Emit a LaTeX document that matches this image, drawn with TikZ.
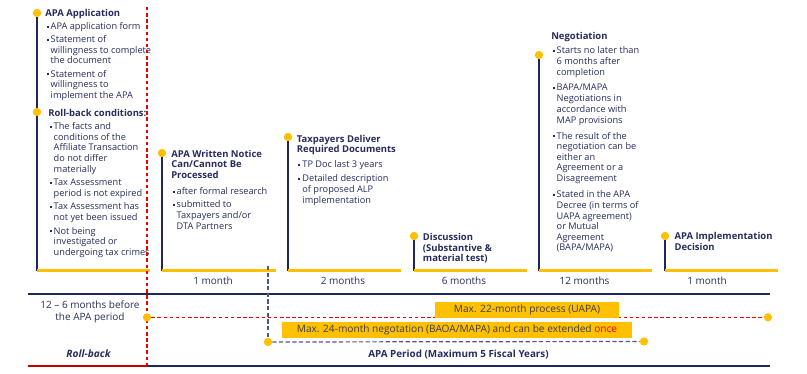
\documentclass[tikz,border=0pt]{standalone}
\usepackage{fontspec}
\setmainfont{Open Sans}
\definecolor{navy}{RGB}{31,38,88}
\definecolor{txt}{RGB}{38,44,92}
\definecolor{gold}{RGB}{255,192,0}
\definecolor{rd}{RGB}{240,0,0}
\definecolor{dkred}{RGB}{192,0,0}
\definecolor{boxtxt}{RGB}{60,60,70}
\definecolor{dsh}{RGB}{80,86,130}
\newcommand{\bx}{\hspace*{1.1pt}\makebox[3pt][l]{\rule[1.3pt]{1.5pt}{1.5pt}}}
\newcommand{\cx}{\hspace*{4.1pt}}
\newcommand{\hd}[1]{{\fontsize{7.1}{8}\selectfont\bfseries #1}}
\begin{document}
\begin{tikzpicture}[x=0.75pt,y=-0.75pt,
  body/.style={font=\fontsize{6.9}{8}\selectfont, text=txt, inner sep=0pt, align=left, anchor=base west},
  dur/.style={font=\fontsize{7.5}{8.7}\selectfont, text=txt, inner sep=0pt, anchor=base},
  dot/.style={circle, fill=gold, inner sep=0pt, minimum size=6pt},
  stem/.style={draw=navy, line width=1pt},
  bar/.style={draw=gold, line width=1.9pt},
  thick/.style={line width=2.2pt},
  ybox/.style={fill=gold, inner sep=0pt, minimum height=12pt, text=boxtxt, font=\fontsize{7.6}{8}\selectfont}]
\useasboundingbox (0,0) rectangle (807,374);

% bars
\coordinate (b1s) at (37,270.5);  \coordinate (b1e) at (150,270.5);
\coordinate (b2s) at (162,270.5); \coordinate (b2e) at (276,270.5);
\coordinate (b3s) at (288,270.5); \coordinate (b3e) at (401,270.5);
\coordinate (b4s) at (414,270.5); \coordinate (b4e) at (527,270.5);
\coordinate (b5s) at (539,270.5); \coordinate (b5e) at (652,270.5);
\coordinate (b6s) at (665,270.5); \coordinate (b6e) at (778,270.5);

% dots
\node[dot] (d1a) at (37,13) {};
\node[dot] (d1b) at (37,112) {};
\node[dot] (d2) at (162,153) {};
\node[dot] (d3) at (288,137) {};
\node[dot] (d4) at (414,236) {};
\node[dot] (d5) at (539,55) {};
\node[dot] (d6) at (665,236) {};

\draw[stem] (d1a) -- (b1s);
\draw[stem] (d2) -- (b2s);
\draw[stem] (d3) -- (b3s);
\draw[stem] (d4) -- (b4s);
\draw[stem] (d5) -- (b5s);
\draw[stem] (d6) -- (b6s);
\node[dot] at (d1a) {};
\node[dot] at (d1b) {};
\node[dot] at (d2) {};
\node[dot] at (d3) {};
\node[dot] at (d4) {};
\node[dot] at (d5) {};
\node[dot] at (d6) {};

\draw[bar] (b1s) -- (b1e);
\draw[bar] (b2s) -- (b2e);
\draw[bar] (b3s) -- (b3e);
\draw[bar] (b4s) -- (b4e);
\draw[bar] (b5s) -- (b5e);
\draw[bar] (b6s) -- (b6e);

% texts (anchored at the baseline of their last line)
\node[body] (t1a) at (45,98.5) {\hd{APA Application}\\[1.5pt]
\bx APA application form\\[1.9pt]
\bx Statement of\\ \cx willingness to complete\\ \cx the document\\[1.9pt]
\bx Statement of\\ \cx willingness to\\ \cx implement the APA};

\node[body] (t1b) at (48,255.5) {\hd{Roll-back conditions:}\\[2pt]
\bx The facts and\\ \cx conditions of the\\ \cx Affiliate Transaction\\ \cx do not differ\\ \cx materially\\[2.2pt]
\bx Tax Assessment\\ \cx period is not expired\\[2.2pt]
\bx Tax Assessment has\\ \cx not yet been issued\\[2.2pt]
\bx Not being\\ \cx investigated or\\ \cx undergoing tax crimes};

\node[body] (t2) at (171,229.3) {\hd{APA Written Notice}\\ \hd{Can/Cannot Be}\\ \hd{Processed}\\[4pt]
\bx after formal research\\[2pt]
\bx submitted to\\ \cx Taxpayers and/or\\ \cx DTA Partners};

\node[body] (t3) at (296.7,203.3) {\hd{Taxpayers Deliver}\\ \hd{Required Documents}\\[3.2pt]
\bx TP Doc last 3 years\\[2.7pt]
\bx Detailed description\\ \cx of proposed ALP\\ \cx implementation};

\node[body] (t4) at (422.7,261.7) {\hd{Discussion}\\ \hd{(Substantive \&}\\ \hd{material test)}};

\node[body] (t5) at (551,251) {\hd{Negotiation}\\[2.5pt]
\bx Starts no later than\\ \cx 6 months after\\ \cx completion\\[3.8pt]
\bx BAPA/MAPA\\ \cx Negotiations in\\ \cx accordance with\\ \cx MAP provisions\\[4pt]
\bx The result of the\\ \cx negotiation can be\\ \cx either an\\ \cx Agreement or a\\ \cx Disagreement\\[4pt]
\bx Stated in the APA\\ \cx Decree (in terms of\\ \cx UAPA agreement)\\ \cx or Mutual\\ \cx Agreement\\ \cx (BAPA/MAPA)};

\node[body] (t6) at (674.3,250) {\hd{APA Implementation}\\ \hd{Decision}};

% durations
\node[dur] (m1) at (213,284) {1 month};
\node[dur] (m2) at (343,284) {2 months};
\node[dur] (m3) at (464,284) {6 months};
\node[dur] (m4) at (584.5,284) {12 months};
\node[dur] (m5) at (707,284) {1 month};

% horizontal rules
\coordinate (hl1) at (28,294); \coordinate (hr1) at (770,294);
\draw[navy, thick] (hl1) -- (hr1);
\coordinate (hl2) at (28,366); \coordinate (hm2) at (147,366); \coordinate (hr2) at (770,366);
\draw[dkred, thick] (hl2) -- (hm2);
\draw[navy, thick] (hm2) -- (hr2);

% red vertical dashed
\coordinate (rv1) at (147,7);
\draw[rd, line width=0.9pt, dash pattern=on 2.6pt off 2pt] (rv1) -- (hm2);

% navy vertical dashed
\coordinate (nv1) at (268,266);
\node[dot] (n1) at (268,342) {};
\node[dot] (n2) at (644,341.5) {};
\draw[dsh, line width=0.9pt, dash pattern=on 3.2pt off 1.8pt] (nv1) -- (n1);
\draw[dsh, line width=0.9pt, dash pattern=on 3.2pt off 1.8pt] (n1) -- (n2);

% red horizontal dashed
\node[dot] (r1) at (147,317.3) {};
\node[dot] (r2) at (768,317.3) {};
\draw[rd, line width=0.9pt, dash pattern=on 2.6pt off 2pt] (r1) -- (r2);
\node[dot] at (r1) {};
\node[dot] at (r2) {};
\node[dot] at (n1) {};
\node[dot] at (n2) {};

% yellow boxes
\node[ybox, minimum width=138pt] (ua) at (527,310) {Max. 22-month process (UAPA)};
\node[ybox, minimum width=262.5pt] (ba) at (457,330) {Max. 24-month negotation (BAOA/MAPA) and can be extended \textcolor{rd}{once}};

% bottom texts
\node[dur, align=center] (pre) at (90,320.3) {12 -- 6 months before\\the APA period};
\node[dur, font=\fontsize{7.6}{8.7}\selectfont\bfseries\itshape] (rb) at (88.5,357.7) {Roll-back};
\node[dur, font=\fontsize{7.4}{8.7}\selectfont\bfseries] (ap) at (458.5,357.7) {APA Period (Maximum 5 Fiscal Years)};
\end{tikzpicture}
\end{document}
